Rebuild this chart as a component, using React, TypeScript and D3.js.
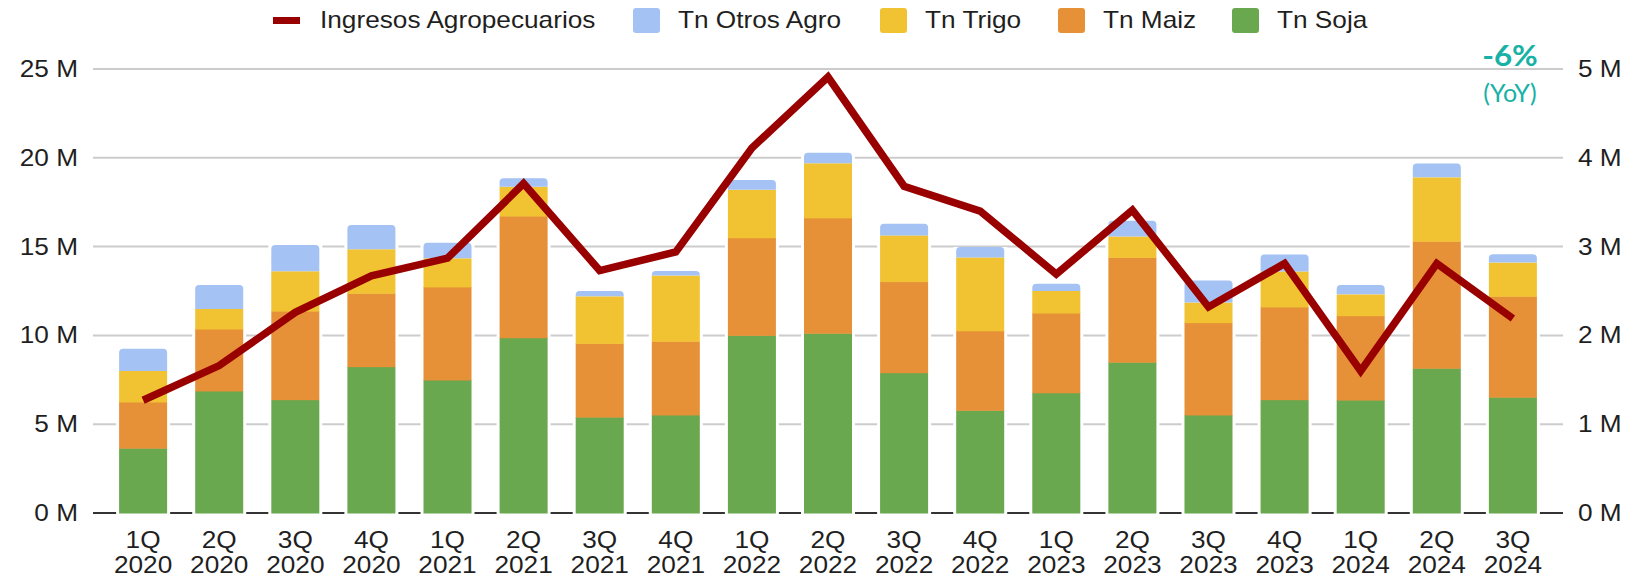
import React from "react";
import * as d3 from "d3";

// ---------- DATA (millions) ----------
const categories = [
  "1Q 2020", "2Q 2020", "3Q 2020", "4Q 2020",
  "1Q 2021", "2Q 2021", "3Q 2021", "4Q 2021",
  "1Q 2022", "2Q 2022", "3Q 2022", "4Q 2022",
  "1Q 2023", "2Q 2023", "3Q 2023", "4Q 2023",
  "1Q 2024", "2Q 2024", "3Q 2024",
];
const tnSoja = [3.65, 6.87, 6.38, 8.24, 7.49, 9.87, 5.40, 5.52, 10.0, 10.12, 7.90, 5.78, 6.77, 8.49, 5.52, 6.38, 6.36, 8.15, 6.52];
const tnMaiz = [2.60, 3.49, 4.99, 4.13, 5.24, 6.85, 4.15, 4.15, 5.50, 6.50, 5.13, 4.48, 4.49, 5.90, 5.20, 5.22, 4.75, 7.15, 5.68];
const tnTrigo = [1.75, 1.13, 2.24, 2.48, 1.61, 1.65, 2.65, 3.70, 2.70, 3.07, 2.60, 4.13, 1.24, 1.18, 1.13, 2.00, 1.20, 3.60, 1.90];
const tnOtros = [1.25, 1.35, 1.48, 1.37, 0.88, 0.48, 0.30, 0.25, 0.55, 0.60, 0.65, 0.59, 0.41, 0.88, 1.24, 0.95, 0.53, 0.78, 0.47];
const ingresos = [1.27, 1.66, 2.26, 2.67, 2.87, 3.71, 2.73, 2.94, 4.11, 4.91, 3.68, 3.40, 2.69, 3.41, 2.32, 2.81, 1.60, 2.81, 2.19];

const leftTicks = [0, 5, 10, 15, 20, 25];
const rightTicks = [0, 1, 2, 3, 4, 5];
const yoyValue = "-6%";
const yoyLabel = "(YoY)";

const seriesKeys = ["soja", "maiz", "trigo", "otros"];
const seriesColors: Record<string, string> = {
  soja: "#6aa84f",
  maiz: "#e69138",
  trigo: "#f1c232",
  otros: "#a4c2f4",
};
const lineColor = "#990000";

const legendItems = [
  { label: "Ingresos Agropecuarios", color: lineColor, kind: "line", x: 273 },
  { label: "Tn Otros Agro", color: seriesColors.otros, kind: "box", x: 633 },
  { label: "Tn Trigo", color: seriesColors.trigo, kind: "box", x: 880 },
  { label: "Tn Maiz", color: seriesColors.maiz, kind: "box", x: 1058 },
  { label: "Tn Soja", color: seriesColors.soja, kind: "box", x: 1232 },
];

// ---------- LAYOUT ----------
const W = 1647;
const H = 577;
const SX = 1.14; // horizontal text stretch of the original picture
const FONT = "'Liberation Sans', Arial, Helvetica, sans-serif";
const PLOT_L = 93;
const PLOT_R = 1563;
const Y0 = 513;
const Y1 = 69;

function topRounded(x: number, y: number, w: number, h: number, r: number) {
  const rr = Math.min(r, h, w / 2);
  return `M${x},${y + h}V${y + rr}Q${x},${y} ${x + rr},${y}H${x + w - rr}Q${x + w},${y} ${x + w},${y + rr}V${y + h}Z`;
}

function T(props: any) {
  const { x, y, children, sx = SX, ...rest } = props;
  return (
    <text transform={`translate(${x},${y}) scale(${sx},1)`} {...rest}>
      {children}
    </text>
  );
}

export default function App() {
  const x = d3
    .scaleBand<string>()
    .domain(categories)
    .range([PLOT_L, PLOT_R])
    .paddingInner(0.369)
    .paddingOuter(0.343);
  const yL = d3.scaleLinear().domain([0, 25e6]).range([Y0, Y1]);
  const yR = d3.scaleLinear().domain([0, 5e6]).range([Y0, Y1]);

  const rows = categories.map((c, i) => ({
    cat: c,
    soja: tnSoja[i] * 1e6,
    maiz: tnMaiz[i] * 1e6,
    trigo: tnTrigo[i] * 1e6,
    otros: tnOtros[i] * 1e6,
  }));
  const stacked = d3.stack<any>().keys(seriesKeys)(rows);
  const bw = x.bandwidth();
  const cx = (c: string) => (x(c) as number) + bw / 2;

  const linePath = d3
    .line<number>()
    .x((_, i) => cx(categories[i]))
    .y((d) => yR(d * 1e6))(ingresos) as string;

  const totals = rows.map((r) => r.soja + r.maiz + r.trigo + r.otros);

  return (
    <svg
      width={W}
      height={H}
      style={{ position: "absolute", left: 0, top: 0, background: "#fff" }}
      fontFamily={FONT}
    >
      <rect x={0} y={0} width={W} height={H} fill="#fff" />

      {/* gridlines */}
      {leftTicks.slice(1).map((t) => (
        <line
          key={"g" + t}
          x1={PLOT_L}
          x2={PLOT_R}
          y1={yL(t * 1e6)}
          y2={yL(t * 1e6)}
          stroke="#cccccc"
          strokeWidth={2}
        />
      ))}
      <line x1={PLOT_L} x2={PLOT_R} y1={Y0} y2={Y0} stroke="#333333" strokeWidth={2} />

      {/* left axis labels */}
      {leftTicks.map((t) => (
        <T key={"l" + t} x={78} y={yL(t * 1e6) + 8} textAnchor="end" fontSize={23} fill="#1f1f1f">
          {`${t} M`}
        </T>
      ))}
      {/* right axis labels */}
      {rightTicks.map((t) => (
        <T key={"r" + t} x={1578} y={yR(t * 1e6) + 8} textAnchor="start" fontSize={23} fill="#1f1f1f">
          {`${t} M`}
        </T>
      ))}

      {/* white gaps around bars on the baseline */}
      {categories.map((c, i) => (
        <rect
          key={"w" + c}
          x={(x(c) as number) - 3}
          y={yL(totals[i])}
          width={bw + 6}
          height={Y0 - yL(totals[i]) + 2}
          fill="#fff"
        />
      ))}

      {/* stacked bars */}
      {stacked.map((s, si) => (
        <g key={s.key} fill={seriesColors[s.key]}>
          {s.map((d, i) => {
            const x0 = x(categories[i]) as number;
            const yTop = yL(d[1]);
            const h = yL(d[0]) - yTop;
            if (si === stacked.length - 1) {
              return <path key={i} d={topRounded(x0, yTop, bw, h, 4)} />;
            }
            return <rect key={i} x={x0} y={yTop} width={bw} height={h + 0.5} />;
          })}
        </g>
      ))}

      {/* line */}
      <path d={linePath} fill="none" stroke={lineColor} strokeWidth={7.5} strokeLinejoin="miter" strokeMiterlimit={6} />

      {/* x labels */}
      {categories.map((c) => {
        const [q, yr] = c.split(" ");
        return (
          <g key={"x" + c}>
            <T x={cx(c)} y={548} textAnchor="middle" fontSize={23} fill="#1f1f1f">
              {q}
            </T>
            <T x={cx(c)} y={573} textAnchor="middle" fontSize={23} fill="#1f1f1f">
              {yr}
            </T>
          </g>
        );
      })}

      {/* legend */}
      {legendItems.map((it) => (
        <g key={it.label}>
          {it.kind === "line" ? (
            <rect x={it.x} y={17} width={27} height={7} fill={it.color} />
          ) : (
            <rect x={it.x} y={8} width={27} height={25} rx={3} fill={it.color} />
          )}
          <T x={it.x + 27 + (it.kind === "line" ? 20 : 18)} y={28} fontSize={23} fill="#1f1f1f">
            {it.label}
          </T>
        </g>
      ))}

      {/* YoY annotation */}
      <T x={1510} y={66} textAnchor="middle" fontSize={28} fontWeight="bold" fill="#17b1a6" fontFamily="Lato, 'Open Sans', sans-serif" sx={1.12}>
        {yoyValue}
      </T>
      <T x={1510} y={102} textAnchor="middle" fontSize={25} fill="#17b1a6" fontFamily="Lato, 'Open Sans', sans-serif" sx={1.0}>
        {yoyLabel}
      </T>
    </svg>
  );
}
